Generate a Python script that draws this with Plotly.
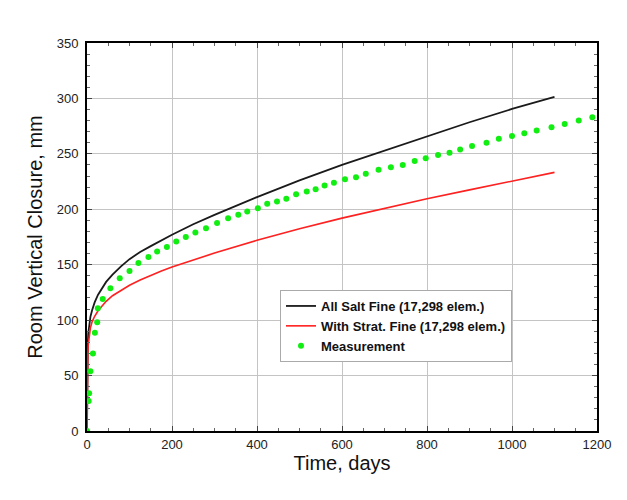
import plotly.graph_objects as go

# ---- data ----
salt_t = [0, 0.5, 1, 2, 3, 5, 8, 12, 18, 26, 35, 45, 60, 80, 100, 125, 150, 175, 200, 250, 300,
          400, 500, 600, 700, 800, 900, 1000, 1100]
salt_y = [0, 48, 66, 80, 88, 96, 103, 109, 116, 123, 129, 134.5, 141, 148.5, 155, 161.5, 166.8, 172.1, 177,
          186.5, 195, 211, 226, 240, 253, 266, 278.5, 290.5, 301.5]

strat_t = [0, 0.5, 1, 2, 3, 5, 8, 12, 18, 26, 35, 45, 60, 80, 100, 125, 150, 175, 200, 250, 300,
           400, 500, 600, 700, 800, 900, 1000, 1100]
strat_y = [0, 45, 60, 71, 78, 86, 93, 98.5, 103.5, 108.5, 113, 117, 122, 127, 131.5, 136.2, 140.5, 144.4, 148,
           154.5, 160.5, 172, 182.5, 192, 201, 209.5, 217.5, 225.5, 233.3]

meas_t = [0, 4, 5, 8, 14, 18.5, 24, 25.5, 37, 55, 77, 100, 121, 144.5, 165, 188, 210, 232.5, 255,
          280, 306, 332, 356, 377, 402, 424, 447, 469, 492, 517, 538, 559, 581, 607, 633, 656, 686,
          715, 743, 771, 797, 826, 853, 878, 906, 940, 969, 1000, 1029, 1058, 1093, 1124, 1157, 1189]
meas_y = [0, 27, 34, 54, 70, 88.7, 98, 110.7, 119, 128.7, 137.7, 144.3, 151.5, 157, 162, 166, 171, 175, 179,
          183, 187.6, 192, 195, 198, 201, 205, 207, 209.5, 213.5, 216, 218, 221.5, 224, 227, 229, 232, 235.7,
          238, 240, 243.5, 246, 249, 251, 254, 257, 260, 263.7, 266, 268.5, 271, 274, 277, 280, 283]

names = ["All Salt Fine (17,298 elem.)", "With Strat. Fine (17,298 elem.)", "Measurement"]
x_ticks = [0, 200, 400, 600, 800, 1000, 1200]
y_ticks = [0, 50, 100, 150, 200, 250, 300, 350]

FONT = "Liberation Sans, Arial, Helvetica, sans-serif"

# page has an 8px body margin: compensate so the plot area lands where the reference has it
OFF = 8
W, H = 627 - OFF, 500 - OFF
ML, MR, MT, MB = 87 - OFF, 30, 43 - OFF, 69
PW, PH = W - ML - MR, H - MT - MB

fig = go.Figure()
fig.add_trace(go.Scatter(x=salt_t, y=salt_y, mode="lines", name=names[0],
                         line=dict(color="#1a1a1a", width=1.8)))
fig.add_trace(go.Scatter(x=strat_t, y=strat_y, mode="lines", name=names[1],
                         line=dict(color="#ff2020", width=1.6)))
fig.add_trace(go.Scatter(x=meas_t, y=meas_y, mode="markers", name=names[2],
                         marker=dict(color="#11ee11", size=6, line=dict(width=0))))

axis_common = dict(
    showline=True, linecolor="black", linewidth=2, mirror="ticks",
    ticks="inside", ticklen=5, tickcolor="#444", tickwidth=1,
    showgrid=True, gridcolor="#c4c4c4", gridwidth=1,
    zeroline=False,
    tickfont=dict(family=FONT, size=13, color="#222"),
)

fig.update_xaxes(
    range=[0, 1200], tickvals=x_ticks,
    minor=dict(dtick=50, ticks="inside", ticklen=3, tickcolor="#666", showgrid=False),
    title=dict(text="Time, days", font=dict(family=FONT, size=20, color="#111"), standoff=1),
    **axis_common,
)
fig.update_yaxes(
    range=[0, 350], tickvals=y_ticks, ticklabelstandoff=4,
    minor=dict(dtick=10, ticks="inside", ticklen=3, tickcolor="#666", showgrid=False),
    title=dict(text="Room Vertical Closure, mm", font=dict(family=FONT, size=20, color="#111"), standoff=9),
    **axis_common,
)

fig.update_layout(
    width=W, height=H,
    margin=dict(l=ML, r=MR, t=MT, b=MB, autoexpand=False),
    paper_bgcolor="white", plot_bgcolor="white",
    font=dict(family=FONT),
    showlegend=True,
    legend=dict(
        x=(280 - 87) / PW, y=(431 - 290) / PH, xanchor="left", yanchor="top",
        bgcolor="white", bordercolor="#aaaaaa", borderwidth=1,
        font=dict(family=FONT, size=13, color="#111", weight="bold"),
        tracegroupgap=0, itemwidth=30,
    ),
)

fig.write_html("out.html")
